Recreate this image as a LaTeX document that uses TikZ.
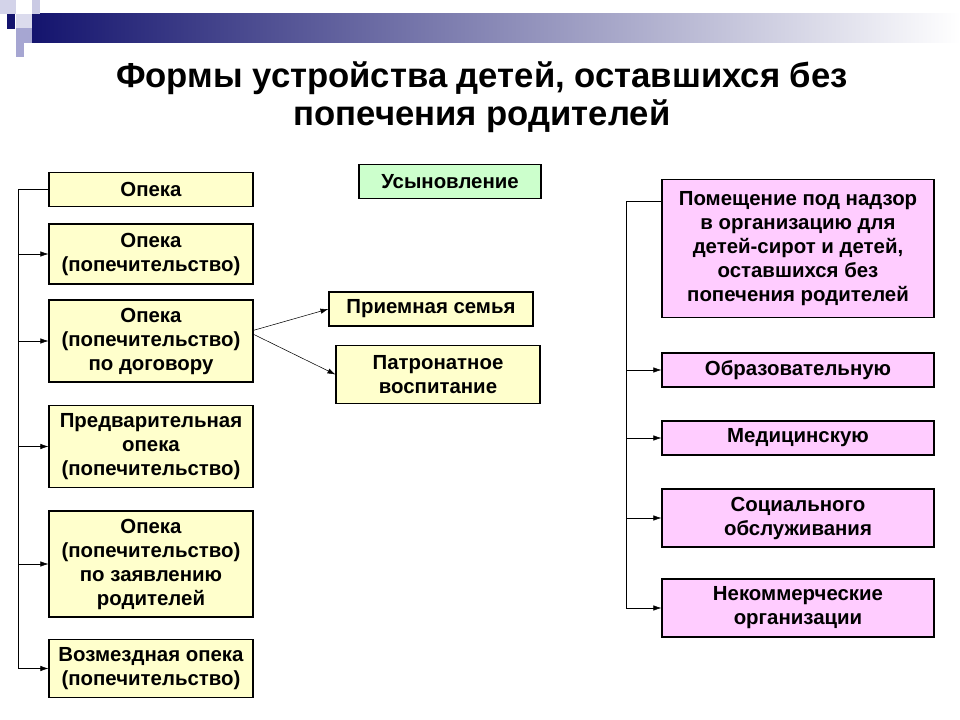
\documentclass[tikz,border=0pt]{standalone}
\usepackage{fontspec}
\setmainfont{Liberation Sans}
\usetikzlibrary{arrows.meta}
\definecolor{yel}{HTML}{FFFFCC}
\definecolor{grn}{HTML}{CCFFCC}
\definecolor{pnk}{HTML}{FFCCFF}
\definecolor{navy}{HTML}{14146E}
\definecolor{lav}{HTML}{A6A6D2}
\tikzset{
  box/.style={draw, thick, inner sep=0pt, align=center,
    font=\fontsize{15.3}{18}\selectfont\bfseries},
  arr/.style={-{Latex[length=6pt,width=4pt]}}
}
\begin{document}
\begin{tikzpicture}[x=0.75pt,y=-0.75pt]
\useasboundingbox (0,0) rectangle (960,720);
% header
\shade[left color=navy, right color=white] (32,14) rectangle (960,43);
\fill[lav!50] (0,0) rectangle (16,14);
\fill[lav!40] (16,14) rectangle (32,28);
\fill[lav] (16,28) rectangle (32,43);
\fill[lav!60] (32,0) rectangle (40,14);
\fill[navy] (7,14) rectangle (15,29);
\fill[lav] (16,43) rectangle (24,57);
\node[font=\fontsize{26}{28.5}\selectfont\bfseries, align=center] (title) at (482,97)
  {Формы устройства детей, оставшихся без\\попечения родителей};

% left column
\node[box, fill=yel, minimum width=153pt, minimum height=26pt] (l1) at (151,189.5) {Опека};
\node[box, fill=yel, minimum width=153pt, minimum height=45pt] (l2) at (151,254) {Опека\\(попечительство)};
\node[box, fill=yel, minimum width=153pt, minimum height=61.5pt] (l3) at (151,341) {Опека\\(попечительство)\\по договору};
\node[box, fill=yel, minimum width=153pt, minimum height=62pt] (l4) at (151,446.5) {Предварительная\\опека\\(попечительство)};
\node[box, fill=yel, minimum width=153pt, minimum height=79.5pt] (l5) at (151,564) {Опека\\(попечительство)\\по заявлению\\родителей};
\node[box, fill=yel, minimum width=153pt, minimum height=43pt] (l6) at (151,668.5) {Возмездная опека\\(попечительство)};

% middle
\node[box, fill=grn, minimum width=136.5pt, minimum height=26pt] (adopt) at (450,181.5) {Усыновление};
\node[box, fill=yel, minimum width=153pt, minimum height=25.5pt] (foster) at (431,309) {Приемная семья};
\node[box, fill=yel, minimum width=153pt, minimum height=44pt] (patron) at (438,374.5) {Патронатное\\воспитание};

% right column
\node[box, fill=pnk, minimum width=204pt, minimum height=104pt] (r1) at (798,248.5)
  {Помещение под надзор\\в организацию для\\детей-сирот и детей,\\оставшихся без\\попечения родителей};
\node[box, fill=pnk, minimum width=204pt, minimum height=25.5pt] (r2) at (798,370) {Образовательную};
\node[box, fill=pnk, minimum width=204pt, minimum height=25.5pt] (r3) at (798,438) {Медицинскую};
\node[box, fill=pnk, minimum width=204pt, minimum height=43.5pt] (r4) at (798,518) {Социального\\обслуживания};
\node[box, fill=pnk, minimum width=204pt, minimum height=43.5pt] (r5) at (798,608) {Некоммерческие\\организации};

% connectors
\coordinate (lt) at (18,189.5);
\coordinate (lb) at (18,668.5);
\draw (l1.west) -- (lt) -- (lb);
\foreach \n in {l2,l3,l4,l5,l6}
  \draw[arr] (lt |- \n.west) -- (\n.west);
\draw[arr] ([yshift=8pt]l3.east) -- (foster.west);
\draw[arr] ([yshift=5pt]l3.east) -- (patron.west);
\coordinate (rt) at (626,201);
\coordinate (rb) at (626,608);
\draw (r1.west |- rt) -- (rt) -- (rb);
\foreach \n in {r2,r3,r4,r5}
  \draw[arr] (rt |- \n.west) -- (\n.west);
\end{tikzpicture}
\end{document}
